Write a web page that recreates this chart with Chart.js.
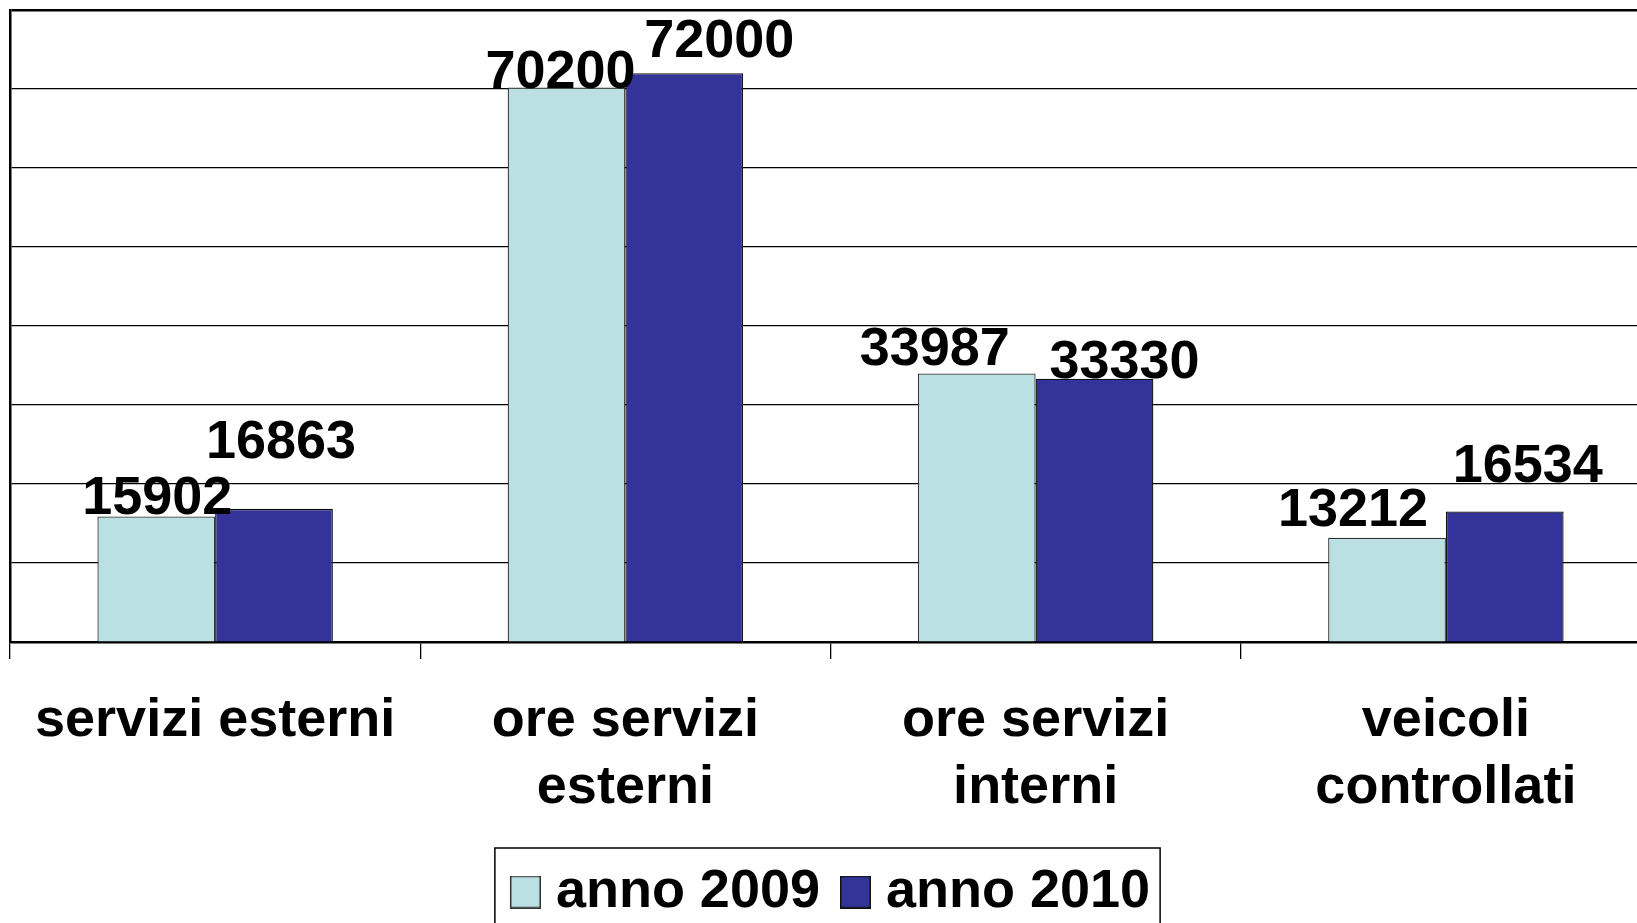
<!DOCTYPE html>
<html>
<head>
<meta charset="utf-8">
<script src="https://cdn.jsdelivr.net/npm/chart.js@4.4.1/dist/chart.umd.min.js"></script>
<style>
    html, body { margin: 0; padding: 0; background: #fff; overflow: hidden; }
    #wrap { width: 1657px; height: 940px; }
</style>
</head>
<body>
<div id="wrap"><canvas id="myChart"></canvas></div>
<script>
// dati del grafico
const categories = [["servizi esterni"], ["ore servizi", "esterni"], ["ore servizi", "interni"], ["veicoli", "controllati"]];
const seriesNames = ["anno 2009", "anno 2010"];
const anno2009 = [15902, 70200, 33987, 13212];
const anno2010 = [16863, 72000, 33330, 16534];
const yMax = 80000;
const yStep = 10000;

const colors = ["#BBE0E3", "#333399"];
const borders = ["#333", "#111"];

// spostamento manuale delle etichette (dx, quanto sopra la barra)
const labelShift = [
    [[1, 2], [-6, -1], [-42, 9], [-34, 12]],
    [[7, 51], [35, 16], [30, 1], [23, 29]]
];

const FONT = "'Liberation Sans', Arial, sans-serif";

// quadratino della legenda (con margine trasparente a sinistra)
function swatch(fill, stroke) {
    const c = document.createElement("canvas");
    c.width = 42;
    c.height = 33;
    const g = c.getContext("2d");
    g.fillStyle = fill;
    g.fillRect(11, 0, 31, 33);
    g.strokeStyle = stroke;
    g.lineWidth = 1.5;
    g.strokeRect(11.75, 0.75, 29.5, 31.5);
    return c;
}
const swatches = colors.map((c, i) => swatch(c, borders[i]));

// etichette con i valori sopra le barre
const valueLabels = {
    id: "valueLabels",
    afterDatasetsDraw(chart) {
        const ctx = chart.ctx;
        ctx.save();
        ctx.font = "bold 54px " + FONT;
        ctx.fillStyle = "#000";
        ctx.textAlign = "center";
        ctx.textBaseline = "alphabetic";
        chart.data.datasets.forEach((ds, i) => {
            chart.getDatasetMeta(i).data.forEach((bar, j) => {
                const s = labelShift[i][j];
                ctx.fillText(String(ds.data[j]), bar.x + s[0], bar.y - s[1]);
            });
        });
        ctx.restore();
    }
};

// cornice della legenda
const legendFrame = {
    id: "legendFrame",
    afterDraw(chart) {
        const lg = chart.legend;
        if (!lg || !lg.legendHitBoxes.length) return;
        const hb = lg.legendHitBoxes;
        const last = hb[hb.length - 1];
        const left = hb[0].left - 16;
        const right = last.left + last.width + 10;
        const top = hb[0].top - 17;
        const ctx = chart.ctx;
        ctx.save();
        ctx.strokeStyle = "#000";
        ctx.lineWidth = 1.5;
        ctx.strokeRect(left, top, right - left, chart.height + 20 - top);
        ctx.restore();
    }
};

const ctx = document.getElementById("myChart").getContext("2d");
new Chart(ctx, {
    type: "bar",
    data: {
        labels: categories,
        datasets: [{
            label: seriesNames[0],
            data: anno2009,
            backgroundColor: colors[0],
            borderColor: borders[0],
            borderWidth: 1.3,
            categoryPercentage: 0.574,
            barPercentage: 1
        }, {
            label: seriesNames[1],
            data: anno2010,
            backgroundColor: colors[1],
            borderColor: borders[1],
            borderWidth: 1.3,
            categoryPercentage: 0.574,
            barPercentage: 1
        }]
    },
    options: {
        responsive: true,
        maintainAspectRatio: false,
        animation: false,
        layout: { padding: { left: 10, right: 6, top: 10, bottom: 11 } },
        plugins: {
            tooltip: { enabled: false },
            legend: {
                position: "bottom",
                labels: {
                    usePointStyle: true,
                    pointStyleWidth: 18,
                    boxWidth: 18,
                    padding: 21,
                    color: "#000",
                    font: { family: FONT, size: 54, weight: "bold" },
                    generateLabels(chart) {
                        const items = Chart.defaults.plugins.legend.labels.generateLabels(chart);
                        items.forEach((it, i) => { it.pointStyle = swatches[i]; });
                        return items;
                    }
                }
            }
        },
        scales: {
            x: {
                grid: {
                    offset: true,
                    drawOnChartArea: false,
                    drawTicks: true,
                    tickLength: 17,
                    color: "#000",
                    lineWidth: 1.3
                },
                border: { color: "#000", width: 2.5 },
                ticks: {
                    color: "#000",
                    padding: 29,
                    maxRotation: 0,
                    autoSkip: false,
                    font: { family: FONT, size: 54, weight: "bold", lineHeight: 1.24 }
                },
                afterFit(scale) { scale.height -= 7; }
            },
            y: {
                min: 0,
                max: yMax,
                ticks: { display: false, stepSize: yStep },
                grid: {
                    drawTicks: false,
                    color: "#000",
                    lineWidth: c => (c.tick && c.tick.value === yMax ? 2.5 : 1.3)
                },
                border: { color: "#000", width: 2.5 }
            }
        }
    },
    plugins: [valueLabels, legendFrame]
});
</script>
</body>
</html>
